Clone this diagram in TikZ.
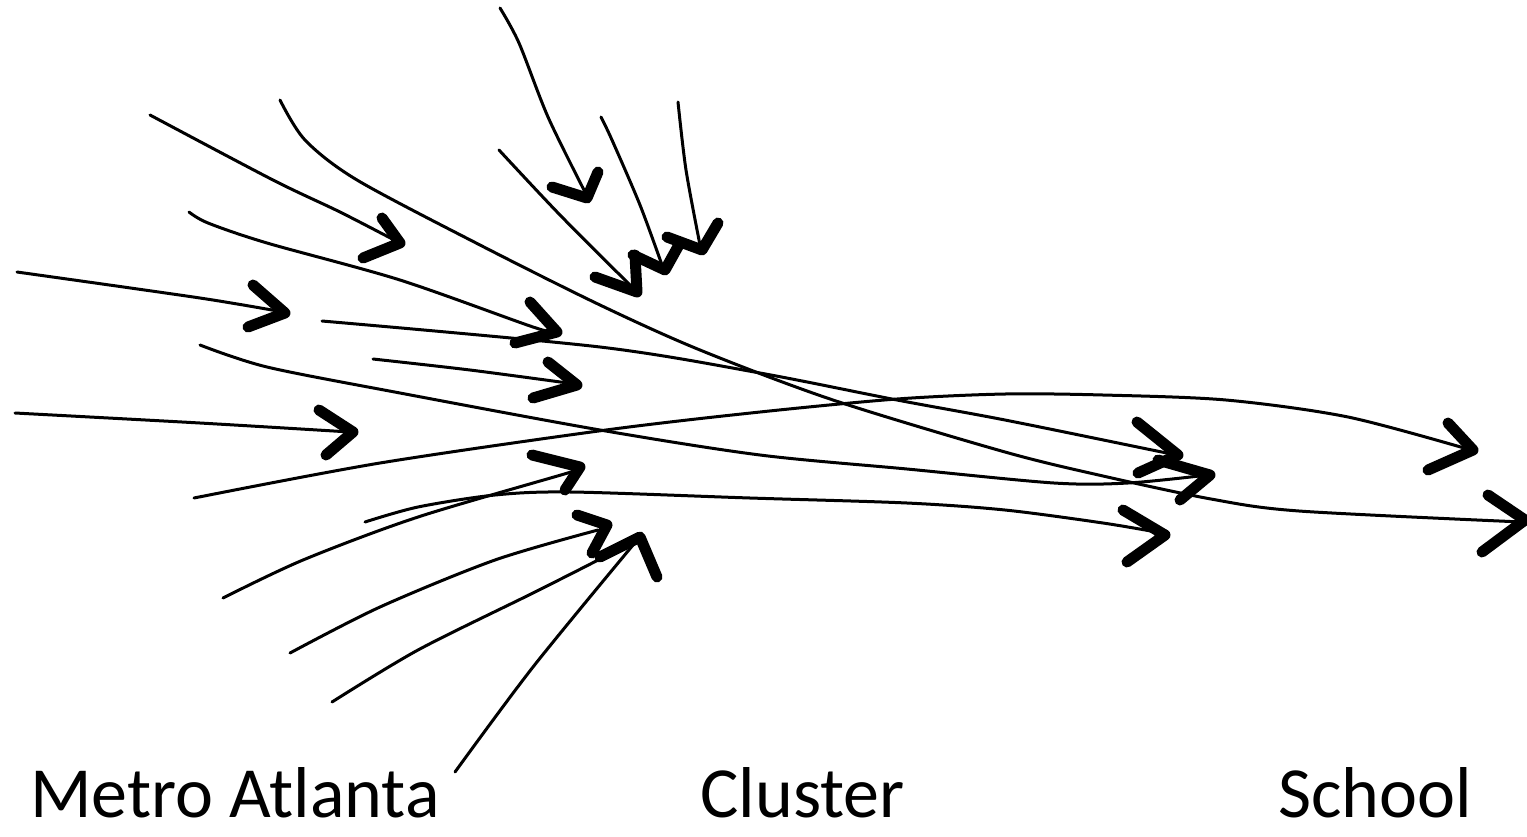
\documentclass[tikz,border=0pt]{standalone}
\usepackage{fontspec}
\setmainfont{Carlito}
\begin{document}
\begin{tikzpicture}[x=0.5pt,y=-0.5pt,
  stroke/.style={line width=1.5pt,line cap=round,line join=round},
  head/.style={line width=5.5pt,line cap=round,line join=round},
  lbl/.style={font=\fontsize{36}{40}\selectfont,anchor=base west,inner sep=0pt}]
\useasboundingbox (0,0) rectangle (1527,836);
% upper fan
\draw[stroke] plot[smooth] coordinates {(150,115)(273,180)(340,212)(398,242)};
\draw[head] (382,218)--(400,243)--(363,258);
\draw[stroke] plot[smooth] coordinates {(280,100)(305,140)(357,180)(480,245)(600,305)(700,350)(833,400)(1005,452)(1103,476)(1211,499)(1299,511)(1522,522)};
\draw[head] (1488,495)--(1525,520)--(1482,552);
\draw[stroke] plot[smooth] coordinates {(500,8)(519,43)(548,117)(585,192)};
\draw[head] (552,187)--(587,198)--(598,172);
\draw[stroke] plot[smooth] coordinates {(601,117)(612,140)(640,205)(662,265)};
\draw[head] (633,255)--(665,270)--(680,243);
\draw[stroke] plot[smooth] coordinates {(499,150)(560,215)(632,287)};
\draw[head] (595,277)--(637,292)--(635,255);
\draw[stroke] plot[smooth] coordinates {(678,102)(686,170)(700,245)};
\draw[head] (667,237)--(702,250)--(718,223);
\draw[stroke] plot[smooth] coordinates {(189,212)(208,223)(267,243)(400,280)(533,327)(555,332)};
\draw[head] (530,302)--(557,332)--(515,343);
\draw[stroke] plot[smooth] coordinates {(17,272)(200,298)(283,312)};
\draw[head] (253,285)--(285,313)--(248,327);
\draw[stroke] plot[smooth] coordinates {(322,321)(600,347)(760,373)(897,400)(1005,420)(1152,450)(1176,455)};
\draw[head] (1137,422)--(1178,455)--(1138,473);
\draw[stroke] plot[smooth] coordinates {(373,359)(470,370)(575,384)};
\draw[head] (548,362)--(577,385)--(533,398);
\draw[stroke] plot[smooth] coordinates {(200,345)(267,367)(400,393)(600,430)(760,455)(907,469)(1054,483)(1128,483)(1208,475)};
\draw[head] (1158,460)--(1210,475)--(1180,500);
\draw[stroke] plot[smooth] coordinates {(15,413)(200,423)(350,432)};
\draw[head] (319,410)--(353,432)--(326,455);
% long arc to school
\draw[stroke] plot[smooth] coordinates {(194,498)(380,463)(606,430)(760,412)(897,399)(1005,394)(1103,395)(1226,400)(1348,417)(1471,450)};
\draw[head] (1448,423)--(1473,450)--(1428,470);
% cluster line
\draw[stroke] plot[smooth] coordinates {(365,522)(418,507)(495,495)(571,492)(750,498)(907,503)(1005,510)(1103,523)(1162,533)};
\draw[head] (1123,510)--(1165,535)--(1127,562);
% lower fan
\draw[stroke] plot[smooth] coordinates {(223,598)(303,560)(418,517)(571,472)(578,468)};
\draw[head] (532,455)--(580,467)--(565,490);
\draw[stroke] plot[smooth] coordinates {(290,653)(380,607)(495,560)(598,530)};
\draw[head] (577,515)--(607,525)--(592,553);
\draw[stroke] plot[smooth] coordinates {(332,702)(418,650)(533,593)(602,558)(615,550)};
\draw[stroke] plot[smooth] coordinates {(455,772)(533,667)(633,545)};
\draw[head] (600,557)--(640,537)--(657,577);
% labels
\node[lbl] (metro) at (30,817) {Metro Atlanta};
\node[lbl] (cluster) at (700,817) {Cluster};
\node[lbl] (school) at (1278,817) {School};
\end{tikzpicture}
\end{document}
